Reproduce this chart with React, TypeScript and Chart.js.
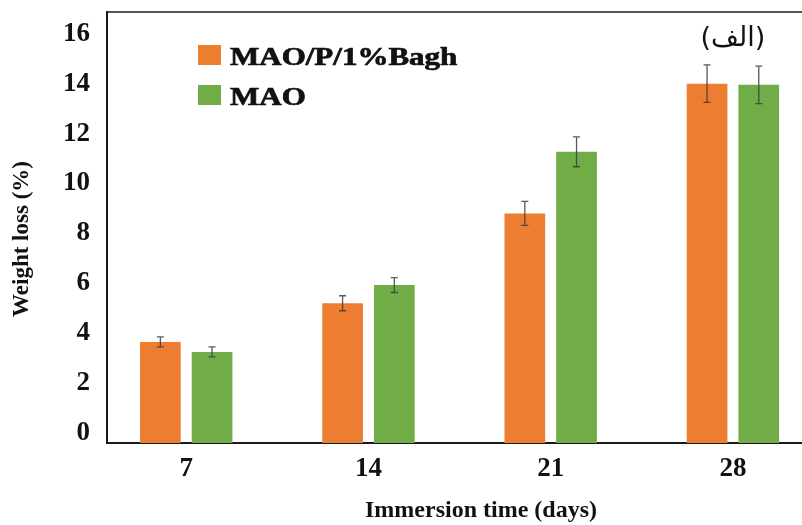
import { useEffect, useRef } from "react";
import { Chart, registerables } from "chart.js";

Chart.register(...registerables);

// ---- data ----
const days = [7, 14, 21, 28];
const dayLabels = ["7", "14", "21", "28"];
const seriesNames = ["MAO/P/1%Bagh", "MAO"];
const baghValues = [3.65, 5.2, 8.8, 14.0];
const baghErrors = [0.2, 0.3, 0.48, 0.75];
const maoValues = [3.25, 5.93, 11.27, 13.95];
const maoErrors = [0.2, 0.3, 0.6, 0.75];
const yTickValues = [0, 2, 4, 6, 8, 10, 12, 14, 16];
const xTitle = "Immersion time (days)";
const yTitle = "Weight loss (%)";
const panelLabel = "(الف)";
const panelLabelDay = 28;
const panelLabelValue = 15.8;

const seriesColors = ["#ED7D31", "#70AD47"];
const seriesErrors = [baghErrors, maoErrors];

const errorBarPlugin = {
  id: "errorBars",
  afterDatasetsDraw(chart: any) {
    const ctx = chart.ctx;
    const yScale = chart.scales.y;
    chart.data.datasets.forEach((ds: any, di: number) => {
      const meta = chart.getDatasetMeta(di);
      const errs = seriesErrors[di];
      meta.data.forEach((bar: any, i: number) => {
        const v = ds.data[i].y;
        const e = errs[i];
        const top = yScale.getPixelForValue(v + e);
        const bot = yScale.getPixelForValue(v - e);
        ctx.save();
        ctx.strokeStyle = "rgba(60,60,60,0.85)";
        ctx.lineWidth = 1.3;
        ctx.beginPath();
        ctx.moveTo(bar.x, top);
        ctx.lineTo(bar.x, bot);
        ctx.moveTo(bar.x - 3.5, top);
        ctx.lineTo(bar.x + 3.5, top);
        ctx.moveTo(bar.x - 3.5, bot);
        ctx.lineTo(bar.x + 3.5, bot);
        ctx.stroke();
        ctx.restore();
      });
    });
  },
};

const insideLegendPlugin = {
  id: "insideLegend",
  afterDraw(chart: any) {
    const ctx = chart.ctx;
    const area = chart.chartArea;
    const left = area.left + 91;
    const top0 = area.top + 33;
    const rowGap = 40;
    chart.data.datasets.forEach((ds: any, i: number) => {
      const top = top0 + i * rowGap;
      ctx.save();
      ctx.fillStyle = ds.backgroundColor;
      ctx.fillRect(left, top, 23, 20);
      ctx.translate(left + 32, top + 20);
      ctx.scale(1.24, 1);
      ctx.fillStyle = "#111";
      ctx.strokeStyle = "#111";
      ctx.lineWidth = 0.7;
      ctx.font = "bold 25px 'Liberation Serif', 'Times New Roman', serif";
      ctx.textAlign = "left";
      ctx.textBaseline = "alphabetic";
      ctx.fillText(ds.label, 0, 0);
      ctx.strokeText(ds.label, 0, 0);
      ctx.restore();
    });
  },
};

const panelLabelPlugin = {
  id: "panelLabel",
  afterDraw(chart: any) {
    const ctx = chart.ctx;
    const x = chart.scales.x.getPixelForValue(panelLabelDay);
    const y = chart.scales.y.getPixelForValue(panelLabelValue);
    ctx.save();
    ctx.fillStyle = "#111";
    ctx.font = "27px 'DejaVu Sans', sans-serif";
    ctx.textAlign = "center";
    ctx.textBaseline = "middle";
    ctx.direction = "ltr";
    ctx.fillText(panelLabel, x, y);
    ctx.restore();
  },
};

// shifts the rotated y-axis title a little toward the bottom, as in the source figure
const yTitleCentrePlugin = {
  id: "yTitleCentre",
  beforeDraw(chart: any) {
    const s = chart.scales.y;
    s._titleShift = 12;
  },
};

export default function App() {
  const canvasRef = useRef<HTMLCanvasElement | null>(null);

  useEffect(() => {
    if (!canvasRef.current) return;
    const serif = "'Liberation Serif', 'Times New Roman', serif";
    const chart = new Chart(canvasRef.current, {
      type: "bar",
      data: {
        datasets: [
          {
            label: seriesNames[0],
            data: days.map((d, i) => ({ x: d, y: baghValues[i] })),
            backgroundColor: seriesColors[0],
            base: -0.4,
            categoryPercentage: 0.5675,
            barPercentage: 0.787,
          } as any,
          {
            label: seriesNames[1],
            data: days.map((d, i) => ({ x: d, y: maoValues[i] })),
            backgroundColor: seriesColors[1],
            base: -0.4,
            categoryPercentage: 0.5675,
            barPercentage: 0.787,
          } as any,
        ],
      },
      options: {
        responsive: false,
        animation: false,
        maintainAspectRatio: false,
        layout: { padding: 0 },
        plugins: {
          legend: { display: false },
          tooltip: { enabled: false },
        },
        scales: {
          x: {
            type: "linear",
            position: "bottom",
            offset: false,
            min: 3.957,
            max: 32.69,
            afterBuildTicks: (scale: any) => {
              scale.ticks = days.map((d) => ({ value: d }));
            },
            afterFit: (scale: any) => {
              scale.height = 82;
              scale.paddingLeft = 0;
              scale.paddingRight = 0;
            },
            grid: { display: false, drawTicks: false, offset: false },
            border: { display: true, color: "#1a1a1a", width: 2 },
            ticks: {
              padding: 10,
              color: "#111",
              font: { family: serif, size: 27, weight: "bold" },
              callback: (v: any) => {
                const idx = days.indexOf(Number(v));
                return idx >= 0 ? dayLabels[idx] : "";
              },
            },
            title: {
              display: true,
              text: xTitle,
              color: "#111",
              font: { family: serif, size: 24, weight: "bold" },
              padding: { top: 0, bottom: 0 },
            },
          },
          x2: {
            type: "linear",
            position: "top",
            display: true,
            offset: false,
            afterFit: (scale: any) => {
              scale.height = 12;
              scale.paddingLeft = 0;
              scale.paddingRight = 0;
            },
            grid: { display: false, drawTicks: false },
            border: { display: true, color: "#555", width: 2 },
            ticks: { display: false },
          },
          y: {
            type: "linear",
            min: -0.4,
            max: 16.87,
            afterBuildTicks: (scale: any) => {
              scale.ticks = yTickValues.map((v) => ({ value: v }));
            },
            afterFit: (scale: any) => {
              scale.width = 107;
              scale.paddingTop = 0;
              scale.paddingBottom = 0;
            },
            grid: { display: false, drawTicks: false },
            border: { display: true, color: "#1a1a1a", width: 2 },
            ticks: {
              padding: 17,
              color: "#111",
              font: { family: serif, size: 27, weight: "bold" },
              callback: (v: any) => String(v),
            },
            title: {
              display: true,
              text: yTitle + "    ",
              color: "#111",
              font: { family: serif, size: 23, weight: "bold" },
              padding: { top: 8, bottom: 0 },
            },
          },
        },
      } as any,
      plugins: [errorBarPlugin, insideLegendPlugin, panelLabelPlugin, yTitleCentrePlugin],
    });
    return () => chart.destroy();
  }, []);

  return (
    <div
      style={{
        position: "absolute",
        left: 0,
        top: 0,
        width: 802,
        height: 525,
        overflow: "hidden",
        background: "#fff",
      }}
    >
      <canvas ref={canvasRef} width={855} height={525} style={{ display: "block" }} />
    </div>
  );
}
